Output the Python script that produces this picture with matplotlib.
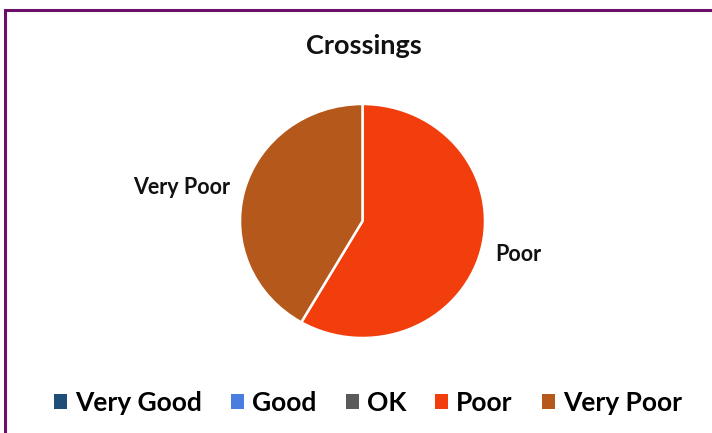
import matplotlib

matplotlib.use("Agg")
import matplotlib.pyplot as plt
from matplotlib.patches import Rectangle

# Data
categories = ["Very Good", "Good", "OK", "Poor", "Very Poor"]
counts = [0, 0, 0, 7, 5]
colors = ["#1f4e79", "#4a7de0", "#5a5a5a", "#f23d0c", "#b5581c"]
title = "Crossings"

plt.rcParams["font.family"] = ["Lato", "DejaVu Sans"]

fig = plt.figure(figsize=(7.12, 4.33), dpi=100)

# purple outer frame
fig.patches.append(Rectangle((5 / 712, -0.05), 1.0, 1 - 10 / 433 + 0.05,
                             transform=fig.transFigure, fill=False,
                             edgecolor="#6b0f6b", linewidth=2.2))

ax = fig.add_axes([(362.5 - 122.5) / 712, (433 - 221 - 117) / 433, 245 / 712, 234 / 433])
labels = [c if v else "" for c, v in zip(categories, counts)]
wedges, texts = ax.pie(counts, labels=labels, colors=colors, startangle=90,
                       counterclock=False, labeldistance=1.12,
                       wedgeprops=dict(edgecolor="white", linewidth=1.8),
                       textprops=dict(fontsize=15.5, fontweight="bold", color="#111111"))
ax.set_aspect("auto")
ax.set_xlim(-1, 1)
ax.set_ylim(-1, 1)
for t in texts:
    t.set_clip_on(False)

fig.text(364 / 712, 1 - 46 / 433, title, ha="center", va="center",
         fontsize=19.5, fontweight="bold", color="#111111")

handles = [Rectangle((0, 0), 1, 1, facecolor=c, edgecolor="none") for c in colors]
fig.legend(handles, categories, loc="center", bbox_to_anchor=(0.517, 1 - 403 / 433),
           ncol=5, frameon=False, handlelength=0.5, handleheight=0.5,
           handletextpad=0.3, columnspacing=1.1,
           prop=dict(size=19, weight="bold"))

fig.savefig("out.png", dpi=100)
